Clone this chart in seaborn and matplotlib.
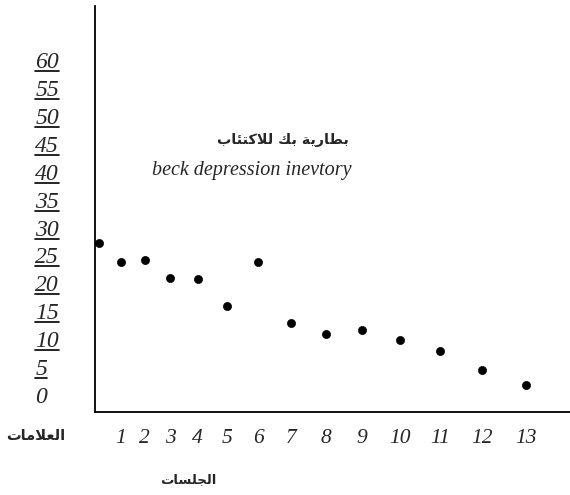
import numpy as np
import pandas as pd
import matplotlib
matplotlib.use("Agg")
import matplotlib.pyplot as plt
from matplotlib.lines import Line2D
import seaborn as sns

# ---------------- data ----------------
sessions = [0, 1, 2, 3, 4, 5, 6, 7, 8, 9, 10, 11, 12, 13]
scores = [27.2, 23.8, 24.2, 21.0, 20.8, 15.9, 23.8, 12.9, 10.9, 11.6, 9.9, 7.9, 4.5, 1.8]
x_ticks = [1, 2, 3, 4, 5, 6, 7, 8, 9, 10, 11, 12, 13]
y_ticks = [0, 5, 10, 15, 20, 25, 30, 35, 40, 45, 50, 55, 60]
title_ar = "بطارية بك للاكتئاب"
title_en = "beck depression inevtory"
ylabel_ar = "العلامات"
xlabel_ar = "الجلسات"

# ---------------- simple Arabic shaping ----------------
FORMS = {
    "\u0627": ("\uFE8D", "\uFE8E", None, None),
    "\u0628": ("\uFE8F", "\uFE90", "\uFE91", "\uFE92"),
    "\u0629": ("\uFE93", "\uFE94", None, None),
    "\u062A": ("\uFE95", "\uFE96", "\uFE97", "\uFE98"),
    "\u0626": ("\uFE89", "\uFE8A", "\uFE8B", "\uFE8C"),
    "\u062C": ("\uFE9D", "\uFE9E", "\uFE9F", "\uFEA0"),
    "\u0631": ("\uFEAD", "\uFEAE", None, None),
    "\u0633": ("\uFEB1", "\uFEB2", "\uFEB3", "\uFEB4"),
    "\u0637": ("\uFEC1", "\uFEC2", "\uFEC3", "\uFEC4"),
    "\u0639": ("\uFEC9", "\uFECA", "\uFECB", "\uFECC"),
    "\u0643": ("\uFED9", "\uFEDA", "\uFEDB", "\uFEDC"),
    "\u0644": ("\uFEDD", "\uFEDE", "\uFEDF", "\uFEE0"),
    "\u0645": ("\uFEE1", "\uFEE2", "\uFEE3", "\uFEE4"),
    "\u064A": ("\uFEF1", "\uFEF2", "\uFEF3", "\uFEF4"),
    "LA": ("\uFEFB", "\uFEFC", None, None),
}


def shape(s):
    units, i = [], 0
    while i < len(s):
        if s[i] == "\u0644" and i + 1 < len(s) and s[i + 1] == "\u0627":
            units.append("LA")
            i += 2
        else:
            units.append(s[i])
            i += 1
    out = []
    for j, u in enumerate(units):
        if u not in FORMS:
            out.append(u)
            continue
        iso, fin, ini, med = FORMS[u]
        prev = units[j - 1] if j > 0 else None
        nxt = units[j + 1] if j + 1 < len(units) else None
        jp = prev in FORMS and FORMS[prev][2] is not None
        jn = ini is not None and nxt in FORMS
        out.append(med if (jp and jn) else fin if jp else ini if jn else iso)
    return "".join(reversed(out))


# ---------------- figure ----------------
sns.set_style("white")
plt.rcParams["font.family"] = ["Liberation Serif", "DejaVu Serif"]

W, H = 570, 495
fig = plt.figure(figsize=(W / 100, H / 100), dpi=100)
ax = fig.add_axes([95 / W, 1 - 412 / H, 475 / W, 406 / H])

df = pd.DataFrame({"session": sessions, "score": scores})

k = 0.0428


def fwd(x):
    x = np.asarray(x, dtype=float)
    x = np.clip(x, -1 / (2 * k) + 1e-6, None)
    return x + k * x ** 2


def inv(g):
    g = np.asarray(g, dtype=float)
    g = np.clip(g, -1 / (4 * k) + 1e-9, None)
    return (-1 + np.sqrt(1 + 4 * k * g)) / (2 * k)


ax.set_xscale("function", functions=(fwd, inv))

sns.scatterplot(data=df, x="session", y="score", ax=ax, color="black",
                edgecolor="black", s=34, linewidth=0.5, zorder=3)

ax.set_xlim(-0.19, 13.97)
ax.set_ylim(-3.04, 69.7)

ax.set_xticks(x_ticks)
ax.set_xticklabels([str(v) for v in x_ticks])
ax.set_yticks(y_ticks)
ax.set_yticklabels([str(v) for v in y_ticks])
ax.xaxis.set_minor_locator(matplotlib.ticker.NullLocator())

ax.tick_params(axis="both", length=0)
ax.tick_params(axis="x", pad=12, labelsize=15.5)
ax.tick_params(axis="y", pad=43, labelsize=17)
for lbl in ax.get_xticklabels() + ax.get_yticklabels():
    lbl.set_fontstyle("italic")
    lbl.set_family(["Liberation Serif", "DejaVu Serif"])
for lbl in ax.get_yticklabels():
    lbl.set_ha("left")

for side in ["top", "right"]:
    ax.spines[side].set_visible(False)
for side in ["left", "bottom"]:
    ax.spines[side].set_color("black")
    ax.spines[side].set_linewidth(1.3)

ax.set_xlabel(shape(xlabel_ar), fontsize=9.5, fontweight="bold",
              family=["DejaVu Sans"])
ax.xaxis.set_label_coords(0.196, -0.1675)
ax.xaxis.label.set_va("center")
ax.set_ylabel(shape(ylabel_ar), fontsize=10.5, fontweight="bold",
              family=["DejaVu Sans"], rotation=0)
ax.yaxis.set_label_coords(-0.124, -0.0567)
ax.yaxis.label.set_va("center")
ax.yaxis.label.set_ha("center")

ax.text(0.396, 0.670, shape(title_ar), transform=ax.transAxes, ha="center",
        va="center", fontsize=10.3, fontweight="bold", family=["DejaVu Sans"])
ax.text(0.3305, 0.596, title_en, transform=ax.transAxes, ha="center",
        va="center", fontsize=14.5, fontstyle="italic",
        family=["Liberation Serif", "DejaVu Serif"])

ax.grid(False)

# underline the y tick labels (except 0)
fig.canvas.draw()
renderer = fig.canvas.get_renderer()
for lbl in ax.get_yticklabels():
    if lbl.get_text() in ("", "0"):
        continue
    bb = lbl.get_window_extent(renderer)
    y0 = bb.y0 + 2
    line = Line2D([bb.x0 / W, bb.x1 / W], [y0 / H, y0 / H],
                  transform=fig.transFigure, color="black", linewidth=1.2)
    fig.add_artist(line)

fig.savefig("out.png", dpi=100, facecolor="white")
